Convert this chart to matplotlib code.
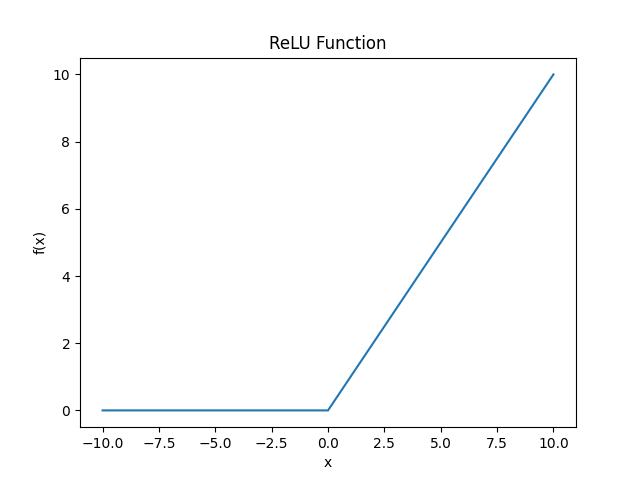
#!/usr/bin/env python3
"""Plot of the ReLU function."""
import matplotlib

matplotlib.use("Agg")
import matplotlib.pyplot as plt

# breakpoints
x_values = [-10.0, 0.0, 10.0]
y_values = [0.0, 0.0, 10.0]


def main():
    fig, ax = plt.subplots(figsize=(6.4, 4.8), dpi=100)
    ax.plot(x_values, y_values)
    ax.set_title("ReLU Function")
    ax.set_xlabel("x")
    ax.set_ylabel("f(x)")
    fig.savefig("out.png")


if __name__ == "__main__":
    main()
